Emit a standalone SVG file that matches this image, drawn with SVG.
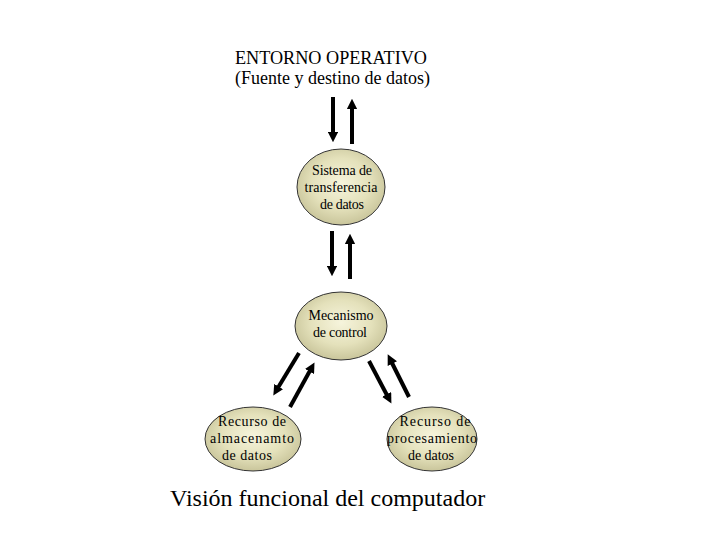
<svg xmlns="http://www.w3.org/2000/svg" width="720" height="540" viewBox="0 0 720 540">
<style>
text{font-family:"Liberation Serif","Times New Roman",serif;fill:#000}
.n{font-size:14px;text-anchor:middle}
.t{font-size:18px}
.node ellipse{fill:url(#g);stroke:#333;stroke-width:1}
.c line{stroke:#000;stroke-width:4;marker-end:url(#ah)}
</style>
<defs>
<radialGradient id="g" cx="50%" cy="45%" r="55%">
<stop offset="0" stop-color="#f6f4dc"/>
<stop offset="0.6" stop-color="#e4e1bb"/>
<stop offset="1" stop-color="#c9c59b"/>
</radialGradient>
<marker id="ah" markerWidth="2.6" markerHeight="2.6" refX="1.3" refY="1.3" orient="auto" markerUnits="strokeWidth" viewBox="0 0 2.6 2.6">
<path d="M0,0 L2.6,1.3 L0,2.6 z" fill="#000"/>
</marker>
</defs>
<rect width="720" height="540" fill="#fff"/>
<g id="entorno">
<text class="t" x="235" y="64" textLength="192" lengthAdjust="spacingAndGlyphs">ENTORNO OPERATIVO</text>
<text class="t" x="235" y="84" textLength="195" lengthAdjust="spacingAndGlyphs">(Fuente y destino de datos)</text>
</g>
<g class="c" id="connectors">
<line x1="333" y1="97" x2="333" y2="137"/>
<line x1="352" y1="144" x2="352" y2="104"/>
<line x1="332" y1="231" x2="332" y2="271"/>
<line x1="350" y1="279" x2="350" y2="239"/>
<line x1="299" y1="353" x2="276" y2="391"/>
<line x1="290" y1="407" x2="312" y2="367"/>
<line x1="369" y1="361" x2="389" y2="399"/>
<line x1="409" y1="397" x2="390" y2="359"/>
</g>
<g class="node" id="sistema">
<ellipse cx="341" cy="187" rx="44" ry="38"/>
<text class="n" x="342" y="175" textLength="60" lengthAdjust="spacing">Sistema de</text>
<text class="n" x="341" y="192" textLength="73" lengthAdjust="spacing">transferencia</text>
<text class="n" x="342" y="209" textLength="44" lengthAdjust="spacing">de datos</text>
</g>
<g class="node" id="mecanismo">
<ellipse cx="341" cy="326" rx="46" ry="34"/>
<text class="n" x="341" y="320" textLength="65" lengthAdjust="spacing">Mecanismo</text>
<text class="n" x="340" y="337" textLength="54" lengthAdjust="spacing">de control</text>
</g>
<g class="node" id="almacenamiento">
<ellipse cx="253" cy="439" rx="48" ry="32"/>
<text class="n" x="252" y="426" textLength="68" lengthAdjust="spacing">Recurso de</text>
<text class="n" x="252" y="443" textLength="84" lengthAdjust="spacing">almacenamto</text>
<text class="n" x="247" y="460" textLength="50" lengthAdjust="spacing">de datos</text>
</g>
<g class="node" id="procesamiento">
<ellipse cx="432" cy="439" rx="45" ry="32"/>
<text class="n" x="435" y="426" textLength="71" lengthAdjust="spacing">Recurso de</text>
<text class="n" x="432" y="443" textLength="90" lengthAdjust="spacing">procesamiento</text>
<text class="n" x="431" y="460" textLength="46" lengthAdjust="spacing">de datos</text>
</g>
<text x="170" y="506" font-size="24">Visión funcional del computador</text>
</svg>
